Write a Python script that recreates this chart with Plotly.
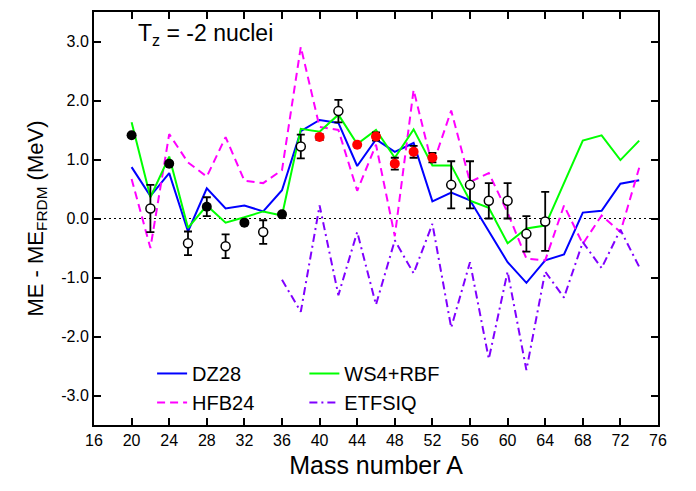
import plotly.graph_objects as go

# ---- data ----
A_model = [20, 22, 24, 26, 28, 30, 32, 34, 36, 38, 40, 42, 44, 46, 48, 50, 52, 54,
           56, 58, 60, 62, 64, 66, 68, 70, 72, 74]
dz28 = [0.87, 0.38, 0.77, -0.22, 0.51, 0.17, 0.22, 0.12, 0.48, 1.48, 1.67, 1.62, 0.89,
        1.34, 1.13, 1.28, 0.29, 0.44, 0.31, -0.22, -0.74, -1.09, -0.71, -0.61, 0.10,
        0.13, 0.59, 0.65]
ws4rbf = [1.63, 0.36, 1.05, -0.16, 0.22, -0.07, 0.02, 0.12, 0.05, 1.52, 1.47, 1.76, 1.26,
          1.50, 1.03, 1.51, 0.90, 0.90, 0.30, 0.18, -0.42, -0.17, -0.12, 0.60, 1.32,
          1.41, 0.99, 1.32]
hfb24 = [0.67, -0.50, 1.43, 0.95, 0.71, 1.38, 0.64, 0.60, 0.82, 2.91, 1.55, 1.50, 0.47,
         1.25, -0.30, 2.18, 0.89, 1.83, 0.62, 0.77, 0.10, -0.68, -0.71, 0.22, -0.43,
         0.05, -0.23, 0.86]
A_etfsiq = [36, 38, 40, 42, 44, 46, 48, 50, 52, 54, 56, 58, 60, 62, 64, 66, 68, 70, 72, 74]
etfsiq = [-1.04, -1.58, 0.22, -1.30, -0.23, -1.46, -0.37, -0.93, -0.09, -1.85, -0.74,
          -2.38, -0.90, -2.57, -0.90, -1.34, -0.40, -0.84, -0.19, -0.82]

# experimental points
A_filled = [20, 24, 28, 32, 36]
me_filled = [1.41, 0.93, 0.20, -0.07, 0.07]
err_filled = [0.0, 0.0, 0.16, 0.0, 0.0]

A_open = [22, 26, 30, 34, 38, 42, 54, 56, 58, 60, 62, 64]
me_open = [0.17, -0.42, -0.47, -0.23, 1.22, 1.82, 0.57, 0.57, 0.30, 0.30, -0.26, -0.05]
err_open = [0.40, 0.20, 0.20, 0.20, 0.20, 0.19, 0.40, 0.40, 0.30, 0.30, 0.30, 0.50]

A_red = [40, 44, 46, 48, 50, 52]
me_red = [1.38, 1.25, 1.39, 0.93, 1.13, 1.03]
err_red = [0.05, 0.0, 0.07, 0.10, 0.10, 0.08]

x_ticks = list(range(16, 77, 4))
y_ticks = [-3, -2, -1, 0, 1, 2, 3]
y_ticktext = ["-3.0", "-2.0", "-1.0", "0.0", "1.0", "2.0", "3.0"]

FONT = "Liberation Sans, Arial, sans-serif"

fig = go.Figure()

fig.add_trace(go.Scatter(x=A_model, y=dz28, mode="lines", name="DZ28",
                         line=dict(color="#0000FF", width=2), legend="legend"))
fig.add_trace(go.Scatter(x=A_model, y=hfb24, mode="lines", name="HFB24",
                         line=dict(color="#FF00FF", width=2, dash="8px,5px"), legend="legend"))
fig.add_trace(go.Scatter(x=A_model, y=ws4rbf, mode="lines", name="WS4+RBF",
                         line=dict(color="#00FF00", width=2), legend="legend2"))
fig.add_trace(go.Scatter(x=A_etfsiq, y=etfsiq, mode="lines", name="ETFSIQ",
                         line=dict(color="#8000FF", width=2, dash="8px,4px,2px,4px"),
                         legend="legend2"))

eb = dict(type="data", visible=True, color="black", thickness=1.8, width=4)

fig.add_trace(go.Scatter(x=A_filled, y=me_filled, mode="markers", showlegend=False,
                         error_y=dict(array=err_filled, **eb),
                         marker=dict(color="black", size=10)))
fig.add_trace(go.Scatter(x=A_open, y=me_open, mode="markers", showlegend=False,
                         error_y=dict(array=err_open, **eb),
                         marker=dict(color="white", size=9,
                                     line=dict(color="black", width=1.5))))
fig.add_trace(go.Scatter(x=A_red, y=me_red, mode="markers", showlegend=False,
                         error_y=dict(array=err_red, **eb),
                         marker=dict(color="#FF0000", size=10)))

# zero reference line
fig.add_hline(y=0, line=dict(color="black", width=1, dash="2px,3px"), layer="below")

fig.add_annotation(text="T<sub>z</sub> = -2 nuclei", x=0.074, y=0.985, xref="paper",
                   yref="paper", xanchor="left", yanchor="top", showarrow=False,
                   font=dict(family=FONT, size=23, color="black"))

axis_common = dict(showgrid=False, zeroline=False, showline=True, linecolor="black",
                   linewidth=2, mirror="ticks", ticks="inside", ticklen=7, tickwidth=1.5,
                   tickcolor="black", tickfont=dict(family=FONT, size=16, color="black"))

fig.update_xaxes(range=[16, 76], tickvals=x_ticks,
                 title=dict(text="Mass number A", font=dict(family=FONT, size=25, color="black"),
                            standoff=8),
                 **axis_common)
fig.update_yaxes(range=[-3.5, 3.5], tickvals=y_ticks, ticktext=y_ticktext,
                 title=dict(text="ME - ME<sub>FRDM</sub> (MeV)",
                            font=dict(family=FONT, size=22, color="black"), standoff=12),
                 **axis_common)

leg_common = dict(font=dict(family=FONT, size=20, color="black"), bgcolor="rgba(0,0,0,0)",
                  borderwidth=0, orientation="v", tracegroupgap=0, xanchor="left",
                  yanchor="top", itemwidth=30)
fig.update_layout(
    width=696, height=491,
    margin=dict(l=94, r=38, t=10, b=66),
    plot_bgcolor="white", paper_bgcolor="white",
    font=dict(family=FONT, color="black"),
    legend=dict(x=0.103, y=0.172, **leg_common),
    legend2=dict(x=0.373, y=0.172, **leg_common),
)

fig.write_html("out.html")
